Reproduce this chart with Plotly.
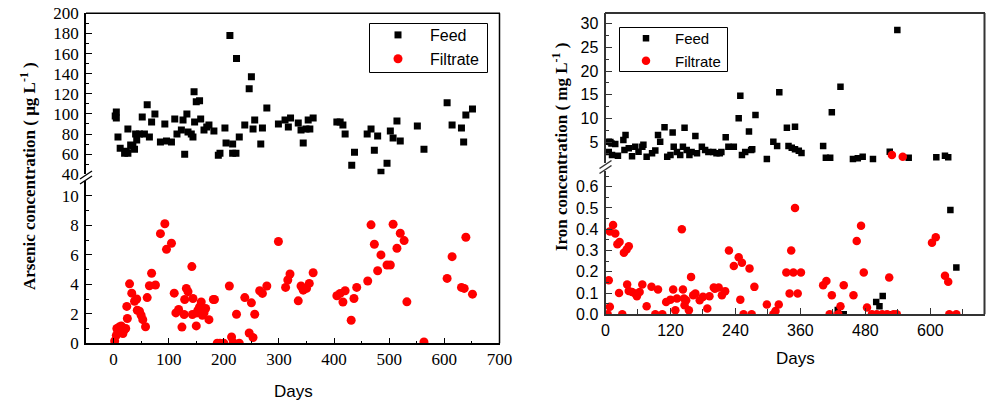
import plotly.graph_objects as go

# ---------------- data ----------------
as_feed_days = [3, 5, 5, 8, 12, 20, 23, 26, 26, 31, 35, 38, 40, 42, 47, 52, 56, 61, 65, 69,
                75, 85, 93, 96, 105, 111, 115, 123, 126, 129, 133, 135, 141, 144, 146, 147, 150, 156, 158, 164,
                169, 173, 182, 190, 193, 202, 204, 211, 216, 216, 222, 223, 228, 238, 246, 250, 253, 256, 267, 270,
                278, 299, 311, 317, 321, 335, 340, 344, 349, 353, 356, 362, 405, 411, 416, 420, 432, 437, 460, 467,
                473, 479, 485, 496, 502, 507, 514, 520, 551, 563, 605, 614, 631, 635, 639, 651]
as_feed_vals = [98, 102, 96, 77, 66, 61, 63, 85, 61, 69, 68, 65, 80, 74, 80, 97, 80, 109, 77, 92,
                100, 72, 90, 73, 72, 95, 80, 84, 94, 60, 100, 82, 80, 77, 122, 92, 112, 113, 95, 84,
                87, 89, 83, 59, 61, 86, 71, 178, 70, 61, 61, 155, 77, 89, 125, 137, 85, 94, 70, 86,
                106, 90, 94, 87, 96, 91, 84, 71, 85, 94, 85, 96, 92, 92, 89, 80, 49, 62, 80, 85,
                64, 78, 42, 51, 83, 76, 93, 73, 88, 65, 111, 89, 86, 72, 99, 105]

as_filt_days = [2, 5, 6, 8, 10, 12, 14, 17, 20, 22, 24, 25, 29, 33, 38, 42, 43, 47, 50, 53,
                58, 61, 65, 69, 76, 85, 93, 96, 105, 110, 113, 118, 124, 128, 129, 132, 135, 142, 143, 144,
                150, 151, 153, 156, 159, 161, 164, 167, 173, 181, 183, 188, 193, 200, 210, 214, 217, 223, 228, 238,
                246, 250, 253, 256, 265, 270, 278, 299, 312, 316, 320, 335, 340, 344, 350, 355, 362, 405, 411, 416,
                420, 431, 436, 441, 461, 467, 473, 479, 485, 496, 502, 507, 514, 520, 527, 532, 563, 605, 614, 631,
                636, 639, 651]
as_filt_vals = [0.16, 0.54, 1.0, 0.8, 1.1, 0.9, 1.18, 0.66, 0.95, 1.0, 2.5, 1.68, 4.03, 3.4, 2.85, 3.0, 2.24, 2.18, 1.9, 1.6,
                1.12, 3.1, 3.9, 4.75, 3.95, 7.43, 8.1, 6.37, 6.78, 3.4, 2.06, 2.29, 1.1, 1.95, 2.97, 3.72, 3.5, 5.2, 1.95, 3.04,
                1.18, 2.06, 2.24, 2.47, 2.8, 1.9, 2.06, 2.36, 1.6, 2.97, 2.97, 0, 0, 0, 3.88, 0.43, 0.05, 1.97, 0, 3.1,
                0.7, 2.74, 0.39, 1.97, 3.56, 3.38, 3.88, 6.9, 3.79, 4.29, 4.7, 2.88, 3.88, 3.6, 3.72, 4.06, 4.78, 3.22, 3.38, 2.8,
                3.56, 1.56, 3.04, 3.79, 4.22, 8.03, 6.71, 4.92, 5.99, 5.31, 5.31, 8.07, 6.44, 7.46, 6.96, 2.81, 0.09, 4.4, 5.87, 3.79,
                3.72, 7.19, 3.33]

fe_feed_days = [6, 6, 9, 11, 12, 18, 23, 33, 35, 37, 43, 49, 55, 61, 68, 70, 76, 86, 92, 97,
                101, 109, 114, 120, 124, 126, 132, 138, 143, 146, 150, 155, 159, 166, 169, 178, 184, 190, 199, 205,
                211, 214, 222, 227, 237, 246, 249, 252, 258, 265, 269, 271, 277, 298, 310, 317, 321, 335, 338, 344,
                350, 350, 357, 362, 402, 407, 415, 418, 429, 434, 440, 457, 466, 475, 494, 500, 506, 512, 525, 529,
                539, 560, 611, 627, 633, 637, 648]
fe_feed_vals = [5.06, 2.9, 5.0, 4.7, 2.25, 4.6, 2.1, 5.4, 3.3, 6.5, 3.66, 2.0, 4.0, 2.95, 4.0, 4.4, 1.9, 2.6, 3.2, 6.5,
                5.06, 8.1, 1.9, 2.25, 7.0, 4.0, 2.9, 2.25, 4.0, 8.0, 3.3, 2.25, 2.9, 6.27, 2.6, 4.0, 3.3, 2.9, 2.9, 2.6,
                2.6, 2.9, 6.0, 4.0, 4.0, 10.0, 14.8, 2.25, 2.9, 7.2, 3.3, 3.45, 10.7, 1.4, 5.06, 4.15, 15.5, 8.0, 4.15, 3.8,
                8.2, 3.45, 3.16, 2.7, 4.15, 1.67, 1.67, 11.3, 0.02, 16.7, 0.0, 1.4, 1.55, 1.9, 1.4, 0.058, 0.038, 0.086, 2.95, 0.0,
                28.7, 1.67, 1.75, 2.1, 1.75, 0.49, 0.22]

fe_filt_days = [4, 6, 8, 8, 14, 18, 22, 25, 26, 31, 34, 39, 40, 43, 43, 49, 55, 58, 63, 68,
                76, 85, 92, 97, 105, 112, 120, 125, 129, 132, 141, 143, 145, 146, 149, 154, 158, 162, 166, 174,
                180, 188, 192, 200, 202, 209, 215, 221, 228, 237, 246, 249, 252, 255, 266, 270, 275, 298, 310, 314,
                320, 334, 340, 343, 347, 350, 355, 361, 402, 408, 414, 418, 430, 434, 440, 458, 464, 472, 477, 483,
                492, 501, 511, 520, 524, 529, 532, 538, 549, 603, 610, 627, 633, 635, 648]
fe_filt_vals = [0, 0.16, 0.035, 0.39, 0.42, 0.38, 0.33, 0.1, 0.34, 0, 0.29, 0.305, 0.14, 0.32, 0.11, 0.105, 0.098, 0.085, 0.105, 0.14,
                0.038, 0.13, 0, 0.117, 0, 0.058, 0.069, 0.117, 0.019, 0.074, 0.4, 0.117, 0.074, 0.043, 0.066, 0.019, 0.176, 0.09, 0.098, 0.066,
                0.082, 0.027, 0.085, 0.126, 0.12, 0.126, 0.09, 0.109, 0.3, 0.227, 0.268, 0.069, 0.242, 0, 0.216, 0, 0.129, 0.046, 0, 0.015,
                0.046, 0.197, 0.098, 0.3, 0.197, 0.5, 0.098, 0.197, 0.137, 0.157, 0, 0.09, 0, 0.038, 0.137, 0.09, 0.345, 0.417, 0.197, 0.032,
                0, 0, 0, 0, 0.173, 2.25, 0, 0, 1.9, 0.337, 0.362, 0.181, 0.153, 0, 0]

left_x_ticks = [0, 100, 200, 300, 400, 500, 600, 700]
right_x_ticks = [0, 120, 240, 360, 480, 600]
left_up_ticks = [40, 60, 80, 100, 120, 140, 160, 180, 200]
left_lo_ticks = [0, 2, 4, 6, 8, 10]
right_up_ticks = [5, 10, 15, 20, 25, 30]
right_lo_ticks = [0.0, 0.1, 0.2, 0.3, 0.4, 0.5, 0.6]

# axis break values (upper part shows values above, lower part below)
as_break = 30
fe_break = 1.0

# ---------------- layout helpers ----------------
W, H = 987, 404


def px(x):
    return x / W


def py(y):
    return 1 - y / H


def split(days, vals, brk):
    up = [(d, v) for d, v in zip(days, vals) if v >= brk]
    lo = [(d, v) for d, v in zip(days, vals) if v < brk]
    return ([d for d, _ in up], [v for _, v in up]), ([d for d, _ in lo], [v for _, v in lo])


SERIF = "Liberation Serif, Times New Roman, serif"
SANS = "Liberation Sans, Arial, sans-serif"

fig = go.Figure()

sq_l = dict(symbol="square", color="black", size=7, line=dict(width=0))
ci_l = dict(symbol="circle", color="#ff0000", size=9, line=dict(width=0))
sq_r = dict(symbol="square", color="black", size=6.5, line=dict(width=0))
ci_r = dict(symbol="circle", color="#ff0000", size=8.5, line=dict(width=0))

panels = [
    (as_feed_days, as_feed_vals, as_filt_days, as_filt_vals, as_break, ("x", "y"), ("x2", "y2"), sq_l, ci_l, "legend"),
    (fe_feed_days, fe_feed_vals, fe_filt_days, fe_filt_vals, fe_break, ("x3", "y3"), ("x4", "y4"), sq_r, ci_r, "legend2"),
]
for fd, fv, td, tv, brk, up_ax, lo_ax, sq, ci, leg in panels:
    f_up, f_lo = split(fd, fv, brk)
    t_up, t_lo = split(td, tv, brk)
    fig.add_trace(go.Scatter(x=f_up[0], y=f_up[1], mode="markers", marker=sq, name="Feed",
                             xaxis=up_ax[0], yaxis=up_ax[1], showlegend=True, legend=leg, legendrank=1))
    fig.add_trace(go.Scatter(x=t_up[0], y=t_up[1], mode="markers", marker=ci, name="Filtrate",
                             xaxis=up_ax[0], yaxis=up_ax[1], showlegend=False, legend=leg))
    fig.add_trace(go.Scatter(x=f_lo[0], y=f_lo[1], mode="markers", marker=sq, name="Feed",
                             xaxis=lo_ax[0], yaxis=lo_ax[1], showlegend=False, legend=leg))
    fig.add_trace(go.Scatter(x=t_lo[0], y=t_lo[1], mode="markers", marker=ci, name="Filtrate",
                             xaxis=lo_ax[0], yaxis=lo_ax[1], showlegend=True, legend=leg, legendrank=2))

LC_L = "black"
LC_R = "#333333"

common = dict(showgrid=False, zeroline=False, fixedrange=True, automargin=False, ticklabeloverflow="allow")


def yax(domain, rng, ticks, minor_dtick, anchor, font, fsize, color, width, fmt=None):
    d = dict(common, domain=domain, range=rng, anchor=anchor, showline=True, linecolor=color,
             linewidth=width, mirror=False, ticks="inside", ticklen=6, tickwidth=1.2, tickcolor=color,
             tickmode="array", tickvals=ticks, tickfont=dict(family=font, size=fsize, color="black"),
             minor=dict(ticks="inside", ticklen=3, tickwidth=1, tickcolor=color, dtick=minor_dtick, tick0=0),
             ticklabelstandoff=2)
    if fmt:
        d["tickformat"] = fmt
    return d


def xax(domain, rng, ticks, minor_dtick, anchor, font, fsize, color, width, visible=True):
    if not visible:
        return dict(common, domain=domain, range=rng, anchor=anchor, visible=False)
    return dict(common, domain=domain, range=rng, anchor=anchor, showline=True, linecolor=color,
                linewidth=width, ticks="inside", ticklen=6, tickwidth=1.2, tickcolor=color,
                tickmode="array", tickvals=ticks, tickfont=dict(family=font, size=fsize, color="black"),
                minor=dict(ticks="inside", ticklen=3 if color == LC_L else 5, tickwidth=1,
                           tickcolor=color, dtick=minor_dtick, tick0=0))


L_X = [px(86), px(499.5)]
R_X = [px(605.5), px(984.5)]

fig.update_layout(
    width=W, height=H, autosize=False,
    margin=dict(l=0, r=0, t=0, b=0, pad=0, autoexpand=False),
    paper_bgcolor="white", plot_bgcolor="white",
    hovermode=False,
    xaxis=xax(L_X, [-50, 700], left_x_ticks, 50, "y", SERIF, 17, LC_L, 1.5, visible=False),
    xaxis2=xax(L_X, [-50, 700], left_x_ticks, 50, "y2", SERIF, 17, LC_L, 1.5),
    yaxis=yax([py(174.3), py(13.3)], [40, 200], left_up_ticks, 10, "x", SERIF, 17, LC_L, 1.5),
    yaxis2=yax([py(343.3), py(181)], [0, 11.0], left_lo_ticks, 1, "x2", SERIF, 17, LC_L, 1.5),
    xaxis3=xax(R_X, [0, 700], right_x_ticks, 60, "y3", SANS, 16, LC_R, 2, visible=False),
    xaxis4=xax(R_X, [0, 700], right_x_ticks, 60, "y4", SANS, 16, LC_R, 2),
    yaxis3=yax([py(163), py(13)], [0.56, 32.27], right_up_ticks, 2.5, "x3", SANS, 16, LC_R, 2),
    yaxis4=yax([py(314.3), py(171)], [0, 0.674], right_lo_ticks, 0.05, "x4", SANS, 16, LC_R, 2, fmt=".1f"),
    legend=dict(x=px(366), y=py(18), xanchor="left", yanchor="top", bgcolor="rgba(0,0,0,0)",
                borderwidth=0, font=dict(family=SANS, size=16, color="black"),
                itemwidth=54, tracegroupgap=0),
    legend2=dict(x=px(617), y=py(22), xanchor="left", yanchor="top", bgcolor="rgba(0,0,0,0)",
                 borderwidth=0, font=dict(family=SANS, size=15, color="black"),
                 itemwidth=48, tracegroupgap=0),
)

shapes = []
# frame lines (top and right) of both panels
shapes.append(dict(type="line", xref="paper", yref="paper", x0=px(86), x1=px(500), y0=py(13.3), y1=py(13.3),
                   line=dict(color=LC_L, width=1.5)))
shapes.append(dict(type="line", xref="paper", yref="paper", x0=px(499.5), x1=px(499.5), y0=py(13.3), y1=py(343.3),
                   line=dict(color=LC_L, width=1.5)))
shapes.append(dict(type="line", xref="paper", yref="paper", x0=px(605), x1=px(985), y0=py(13), y1=py(13),
                   line=dict(color=LC_R, width=2)))
shapes.append(dict(type="line", xref="paper", yref="paper", x0=px(984.5), x1=px(984.5), y0=py(13), y1=py(314.3),
                   line=dict(color=LC_R, width=2)))
# legend boxes
shapes.append(dict(type="rect", xref="paper", yref="paper", x0=px(369.5), x1=px(487.5), y0=py(72.5), y1=py(23.5),
                   line=dict(color="black", width=1), fillcolor="white", layer="above"))
shapes.append(dict(type="rect", xref="paper", yref="paper", x0=px(619.5), x1=px(727.5), y0=py(71.5), y1=py(27.5),
                   line=dict(color="black", width=1), fillcolor="white", layer="above"))
# break marks
for (cx, cy, col, w) in [(86, 177.5, LC_L, 1.3), (605.5, 167, LC_R, 1.5)]:
    for off in (-2.5, 2.5):
        shapes.append(dict(type="line", xref="paper", yref="paper",
                           x0=px(cx - 6), y0=py(cy + off + 4), x1=px(cx + 6), y1=py(cy + off - 4),
                           line=dict(color=col, width=w)))
fig.update_layout(shapes=shapes)

annotations = [
    dict(text="<b>Arsenic concentration ( μg L<sup>-1</sup> )</b>", x=px(28), y=py(176),
         font=dict(family=SERIF, size=17, color="black"), textangle=-90),
    dict(text="<b>Iron concentration ( mg L<sup>-1</sup> )</b>", x=px(560), y=py(147),
         font=dict(family=SERIF, size=17, color="black"), textangle=-90),
    dict(text="Days", x=px(293), y=py(391), font=dict(family=SANS, size=17, color="black")),
    dict(text="Days", x=px(795), y=py(358), font=dict(family=SANS, size=17, color="black")),
]
for a in annotations:
    a.update(xref="paper", yref="paper", showarrow=False, xanchor="center", yanchor="middle")
fig.update_layout(annotations=annotations)

# remove the default 8px page margin so the figure fills the window exactly
fig.write_html("out.html", config={"displayModeBar": False},
               post_script="document.body.style.margin='0';")
